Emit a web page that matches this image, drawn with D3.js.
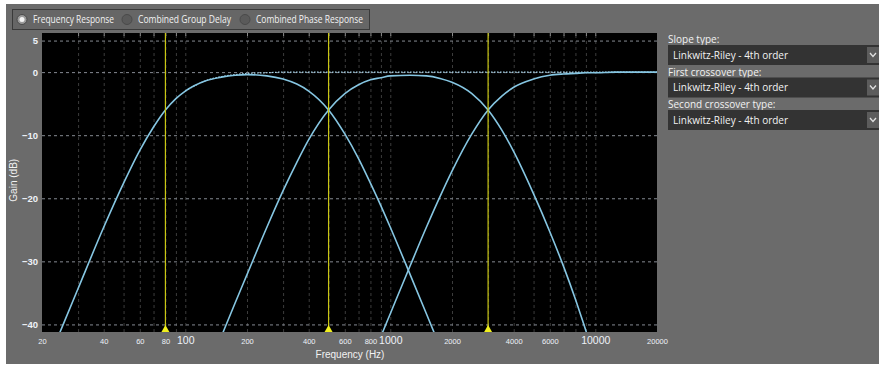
<!DOCTYPE html>
<html>
<head>
<meta charset="utf-8">
<script src="https://cdn.jsdelivr.net/npm/d3@7"></script>
<style>
  body { margin: 0; background: #fff; }
  svg { display: block; }
  .ui { font-family: "Open Sans", "Noto Sans", sans-serif; font-size: 10px; fill: #f2f2f2; }
  .tick text { font-family: "Liberation Sans", Arial, sans-serif; fill: #eef2f8; }
</style>
</head>
<body>
<div id="svg-container"></div>
<script>
////////////////////////////////////////////////////////////////////
////////////////////////////  Data  ///////////////////////////////
const freqs = [20, 25, 30, 40, 50, 60, 70, 80, 90, 100, 125, 150, 175, 200, 250, 300, 350, 400, 500,
  600, 700, 800, 900, 1000, 1250, 1500, 1750, 2000, 2500, 3000, 3500, 4000, 5000, 6000, 7000, 8000,
  9000, 10000, 12500, 15000, 20000];

// gain (dB), one value per frequency, null = off the chart
const lowBand = [-48.2, -40.5, -34.3, -24.6, -17.6, -12.4, -8.7, -6.0, -4.2, -3.0, -1.4, -0.8, -0.5, -0.4,
  -0.6, -1.1, -1.9, -3.0, -6.0, -9.8, -13.7, -17.6, -21.2, -24.6, -32.1, -38.3, -43.6, -48.2, null,
  null, null, null, null, null, null, null, null, null, null, null, null];
const midBand = [null, null, null, null, null, null, null, null, null, null, -48.2, -41.9, -36.6, -32.1,
  -24.6, -18.8, -14.3, -10.7, -6.0, -3.4, -2.0, -1.2, -0.9, -0.6, -0.5, -0.6, -1.0, -1.6, -3.4, -6.0,
  -9.2, -12.6, -19.3, -25.3, -30.8, -36.0, -41.0, -45.5, -52.0, null, null];
const highBand = [null, null, null, null, null, null, null, null, null, null, null, null, null, null,
  null, null, null, null, null, null, -50.6, -46.0, -41.9, -38.3, -30.7, -24.6, -19.7, -15.7, -9.8, -6.0,
  -3.8, -2.4, -1.1, -0.5, -0.3, -0.2, -0.1, -0.1, 0, 0, 0];
const combined = [null, null, null, null, null, null, null, null, null, -3.0, -1.4, -0.7, -0.4, -0.2,
  -0.1, 0, 0, 0, 0, 0, 0, 0, 0, 0, 0, 0, 0, 0, 0, 0, 0, 0, 0, 0, 0, 0, 0, 0, 0, 0, 0];

const crossovers = [80, 500, 3000];

const xTickLabels = [20, 40, 60, 80, 100, 200, 400, 600, 800, 1000, 2000, 4000, 6000, 10000, 20000];
const xMajor = [100, 1000, 10000];
const xGrid = [30, 40, 50, 60, 70, 80, 90, 100, 200, 300, 400, 500, 600, 700, 800, 900, 1000, 2000,
  3000, 4000, 5000, 6000, 7000, 8000, 9000, 10000];
const yTicks = [5, 0, -10, -20, -30, -40];

const viewModes = ["Frequency Response", "Combined Group Delay", "Combined Phase Response"];
const dropdowns = [
  { label: "Slope type:", value: "Linkwitz-Riley - 4th order" },
  { label: "First crossover type:", value: "Linkwitz-Riley - 4th order" },
  { label: "Second crossover type:", value: "Linkwitz-Riley - 4th order" }
];

////////////////////////////////////////////////////////////////////
////////////////////////////  Init  ///////////////////////////////
const width = 879;
const height = 368;
const plot = { left: 42, right: 657, top: 33, bottom: 332 };

const svg = d3.select("#svg-container").append("svg")
  .attr("width", width).attr("height", height);

svg.append("rect").attr("x", 6).attr("y", 4).attr("width", width - 6).attr("height", 360)
  .attr("fill", "#6b6b6b");

// scales
const xScale = d3.scaleLog().domain([20, 20000]).range([plot.left, plot.right]);
const yScale = d3.scaleLinear().domain([-41.2, 6.2]).range([plot.bottom, plot.top]);

svg.append("defs").append("clipPath").attr("id", "plot-clip")
  .append("rect").attr("x", plot.left).attr("y", plot.top)
  .attr("width", plot.right - plot.left).attr("height", plot.bottom - plot.top);

svg.append("rect").attr("x", plot.left).attr("y", plot.top)
  .attr("width", plot.right - plot.left).attr("height", plot.bottom - plot.top)
  .attr("fill", "#000");

// grid
const xGridAxis = d3.axisBottom(xScale).tickValues(xGrid).tickSize(-(plot.bottom - plot.top)).tickFormat("");
svg.append("g").attr("class", "x-grid")
  .attr("transform", `translate(0, ${plot.bottom})`)
  .call(xGridAxis)
  .call((g) => g.select(".domain").remove())
  .call((g) => g.selectAll("line").attr("stroke", "#3c3c3c").attr("stroke-dasharray", "3,3"));

// small light ticks along the top edge
const xTopAxis = d3.axisBottom(xScale).tickValues(xGrid).tickSize(3).tickFormat("");
svg.append("g").attr("class", "x-top")
  .attr("transform", `translate(0, ${plot.top})`)
  .call(xTopAxis)
  .call((g) => g.select(".domain").remove())
  .call((g) => g.selectAll("line").attr("stroke", "#8c8c8c"));

const yGridAxis = d3.axisLeft(yScale).tickValues(yTicks).tickSize(-(plot.right - plot.left)).tickFormat("");
svg.append("g").attr("class", "y-grid")
  .attr("transform", `translate(${plot.left}, 0)`)
  .call(yGridAxis)
  .call((g) => g.select(".domain").remove())
  .call((g) => g.selectAll("line").attr("stroke", "#858a92").attr("stroke-dasharray", "3,3"));

// axes labels
const xAxis = d3.axisBottom(xScale).tickValues(xTickLabels).tickSize(0).tickPadding(4)
  .tickFormat((d) => d);
svg.append("g").attr("class", "x-axis")
  .attr("transform", `translate(0, ${plot.bottom})`)
  .call(xAxis)
  .call((g) => g.select(".domain").remove())
  .call((g) => g.selectAll("text")
    .attr("font-size", (d) => (xMajor.includes(d) ? 10.5 : 7.5))
    .attr("dy", (d) => (xMajor.includes(d) ? "0.8em" : "1.05em")));

const yAxis = d3.axisLeft(yScale).tickValues(yTicks).tickSize(0).tickPadding(4);
svg.append("g").attr("class", "y-axis")
  .attr("transform", `translate(${plot.left}, 0)`)
  .call(yAxis)
  .call((g) => g.select(".domain").remove())
  .call((g) => g.selectAll("text").attr("font-size", 9.5).attr("font-weight", "bold"));

svg.append("text").attr("class", "ui")
  .attr("transform", `translate(17, ${(yScale(-10) + yScale(-30)) / 2 - 18}) rotate(-90)`)
  .attr("text-anchor", "middle").attr("font-size", 9.5)
  .style("font-family", "'Liberation Sans', Arial, sans-serif")
  .text("Gain (dB)");

svg.append("text").attr("class", "ui")
  .attr("x", 350).attr("y", 358)
  .attr("text-anchor", "middle").attr("font-size", 10)
  .style("font-family", "'Liberation Sans', Arial, sans-serif")
  .text("Frequency (Hz)");

// curves
const curveGroup = svg.append("g").attr("clip-path", "url(#plot-clip)");

const makeLine = (values) => d3.line()
  .defined((d, i) => values[i] !== null)
  .curve(d3.curveMonotoneX)
  .x((d) => xScale(d))
  .y((d, i) => yScale(values[i]));

curveGroup.append("path")
  .attr("d", makeLine(combined)(freqs))
  .attr("fill", "none").attr("stroke", "#a9d8ee").attr("stroke-width", 1.2)
  .attr("stroke-dasharray", "1.5,1.5");

[lowBand, midBand, highBand].forEach((values) => {
  curveGroup.append("path")
    .attr("d", makeLine(values)(freqs))
    .attr("fill", "none")
    .attr("stroke", "#86c6e2")
    .attr("stroke-width", 1.6);
});

// crossover markers
curveGroup.selectAll(".xover")
  .data(crossovers)
  .enter()
  .append("line")
  .attr("class", "xover")
  .attr("x1", (d) => xScale(d)).attr("x2", (d) => xScale(d))
  .attr("y1", plot.top).attr("y2", plot.bottom)
  .attr("stroke", "#c9c614").attr("stroke-width", 1.2);

svg.selectAll(".xover-handle")
  .data(crossovers)
  .enter()
  .append("path")
  .attr("class", "xover-handle")
  .attr("d", (d) => `M${xScale(d) - 4},${plot.bottom} L${xScale(d)},${plot.bottom - 7} L${xScale(d) + 4},${plot.bottom} Z`)
  .attr("fill", "#f0ef1e");

// view mode radios
svg.append("rect").attr("x", 12.5).attr("y", 9.5).attr("width", 357).attr("height", 20)
  .attr("fill", "#666").attr("stroke", "#3a3a3a");

const radioX = [22, 127, 245];
const radioTextW = [81, 93, 107];
const radios = svg.selectAll(".radio")
  .data(viewModes)
  .enter()
  .append("g")
  .attr("class", "radio")
  .attr("transform", (d, i) => `translate(${radioX[i]}, 19.5)`);

radios.append("circle").attr("r", 5)
  .attr("fill", (d, i) => (i === 0 ? "#9a9a9a" : "#5a5a5a"))
  .attr("stroke", "#4a4a4a");
radios.filter((d, i) => i === 0).append("circle").attr("r", 2.5).attr("fill", "#f4f4f4");
radios.append("text").attr("class", "ui").attr("x", 11).attr("y", 3.5)
  .attr("textLength", (d, i) => radioTextW[i]).attr("lengthAdjust", "spacingAndGlyphs")
  .text((d) => d);

// dropdowns on the right
const dd = svg.selectAll(".dropdown")
  .data(dropdowns)
  .enter()
  .append("g")
  .attr("class", "dropdown")
  .attr("transform", (d, i) => `translate(668, ${45 + i * 32.5})`);

dd.append("text").attr("class", "ui").attr("x", 0).attr("y", -2).attr("font-size", 9.5).text((d) => d.label);
dd.append("rect").attr("x", 0).attr("y", 0).attr("width", width - 668).attr("height", 20).attr("fill", "#333");
dd.append("text").attr("class", "ui").attr("x", 5).attr("y", 13.5).attr("font-size", 9.5).text((d) => d.value);
dd.append("rect").attr("x", 199).attr("y", 2).attr("width", 12).attr("height", 16).attr("fill", "#5c5c5c");
dd.append("path").attr("d", "M202,8 L205,11.5 L208,8").attr("fill", "none")
  .attr("stroke", "#e0e0e0").attr("stroke-width", 1.3);
</script>
</body>
</html>
